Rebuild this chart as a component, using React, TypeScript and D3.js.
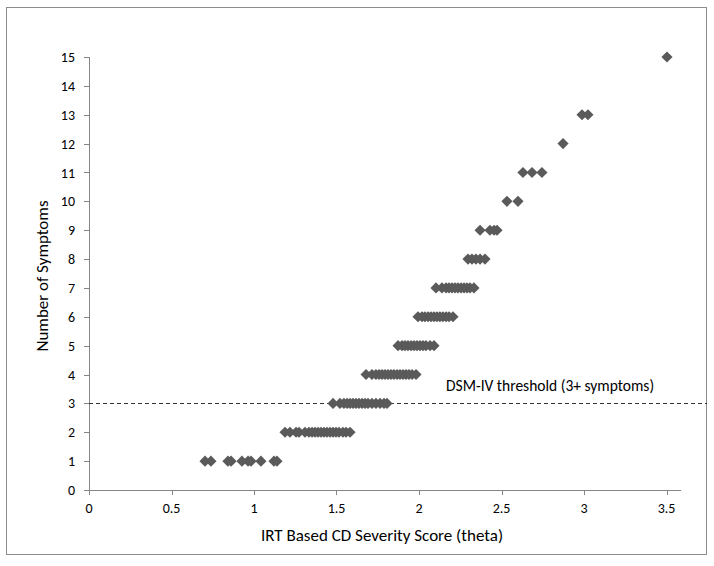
import React from "react";
import * as d3 from "d3";

// Theta scores (IRT CD severity) observed for each number of symptoms
const theta1 = [0.703, 0.739, 0.842, 0.861, 0.927, 0.964, 0.982, 1.042, 1.121, 1.139];
const theta2 = [1.188, 1.218, 1.255, 1.273, 1.309, 1.333, 1.352, 1.37, 1.388, 1.406, 1.424, 1.442, 1.461, 1.479, 1.497, 1.515, 1.539, 1.558, 1.582];
const theta3 = [1.479, 1.521, 1.545, 1.564, 1.582, 1.6, 1.618, 1.636, 1.655, 1.673, 1.691, 1.715, 1.739, 1.764, 1.788, 1.806];
const theta4 = [1.679, 1.715, 1.739, 1.758, 1.776, 1.794, 1.812, 1.83, 1.848, 1.867, 1.885, 1.903, 1.921, 1.939, 1.958, 1.982];
const theta5 = [1.873, 1.897, 1.915, 1.933, 1.952, 1.97, 1.988, 2.006, 2.024, 2.042, 2.067, 2.091];
const theta6 = [1.994, 2.018, 2.036, 2.055, 2.073, 2.091, 2.109, 2.127, 2.145, 2.164, 2.182, 2.206];
const theta7 = [2.103, 2.139, 2.164, 2.182, 2.2, 2.218, 2.236, 2.255, 2.273, 2.291, 2.309, 2.333];
const theta8 = [2.297, 2.321, 2.345, 2.37, 2.4];
const theta9 = [2.37, 2.43, 2.455, 2.473];
const theta10 = [2.533, 2.6];
const theta11 = [2.63, 2.685, 2.745];
const theta12 = [2.873];
const theta13 = [2.988, 3.024];
const theta15 = [3.503];

const symptomCounts = [1, 2, 3, 4, 5, 6, 7, 8, 9, 10, 11, 12, 13, 15];
const thetaLists = [theta1, theta2, theta3, theta4, theta5, theta6, theta7, theta8, theta9, theta10, theta11, theta12, theta13, theta15];

const xTicks = [0, 0.5, 1, 1.5, 2, 2.5, 3, 3.5];
const yTicks = [0, 1, 2, 3, 4, 5, 6, 7, 8, 9, 10, 11, 12, 13, 14, 15];
const thresholdValue = 3;
const thresholdLabel = "DSM-IV threshold (3+ symptoms)";
const xTitle = "IRT Based CD Severity Score (theta)";
const yTitle = "Number of Symptoms";

const points = symptomCounts.flatMap((s, i) => thetaLists[i].map((t) => ({ x: t, y: s })));

export default function App() {
  const W = 714, H = 566;
  const left = 89, right = 681, top = 57, bottom = 490;
  const x = d3.scaleLinear().domain([0, 3.5]).range([left, left + 165 * 3.5]);
  const y = d3.scaleLinear().domain([0, 15]).range([bottom, top]);
  const diamond = d3.symbol().type(d3.symbolSquare).size(62)()!;
  const font = "Carlito, Lato, 'Open Sans', sans-serif";
  const axisColor = "#868686";
  return (
    <svg width={W} height={H} style={{ position: "absolute", left: 0, top: 0, background: "#fff" }}>
      <rect x={6.5} y={7.5} width={700} height={547} fill="#fff" stroke="#8c8c8c" strokeWidth={1} />
      {/* y axis */}
      <line x1={left + 0.5} x2={left + 0.5} y1={top} y2={bottom} stroke={axisColor} />
      {yTicks.map((t) => (
        <g key={"y" + t}>
          <line x1={left - 5} x2={left} y1={Math.round(y(t)) + 0.5} y2={Math.round(y(t)) + 0.5} stroke={axisColor} />
          <text x={left - 14} y={y(t)} dy="0.36em" textAnchor="end" fontFamily={font} fontSize={14} fill="#000">
            {t}
          </text>
        </g>
      ))}
      {/* x axis */}
      <line x1={left} x2={right} y1={bottom + 0.5} y2={bottom + 0.5} stroke={axisColor} />
      {xTicks.map((t) => (
        <g key={"x" + t}>
          <line x1={Math.round(x(t)) + 0.5} x2={Math.round(x(t)) + 0.5} y1={bottom} y2={bottom + 5} stroke={axisColor} />
          <text x={x(t)} y={bottom + 23} textAnchor="middle" fontFamily={font} fontSize={14} fill="#000">
            {t}
          </text>
        </g>
      ))}
      {/* threshold */}
      <line x1={left} x2={707} y1={Math.round(y(thresholdValue)) + 0.5} y2={Math.round(y(thresholdValue)) + 0.5} stroke="#333" strokeWidth={1.2} strokeDasharray="4,3" />
      <text x={446} y={y(thresholdValue) - 12} fontFamily={font} fontSize={15.5} fill="#000">
        {thresholdLabel}
      </text>
      {/* points */}
      {points.map((p, i) => (
        <path key={i} d={diamond} transform={`translate(${x(p.x)},${y(p.y)}) rotate(45)`} fill="#5a5a5a" />
      ))}
      {/* titles */}
      <text x={382} y={541} textAnchor="middle" fontFamily={font} fontSize={17} fill="#000">
        {xTitle}
      </text>
      <text transform={`translate(48,276) rotate(-90)`} textAnchor="middle" fontFamily={font} fontSize={17} fill="#000">
        {yTitle}
      </text>
    </svg>
  );
}
